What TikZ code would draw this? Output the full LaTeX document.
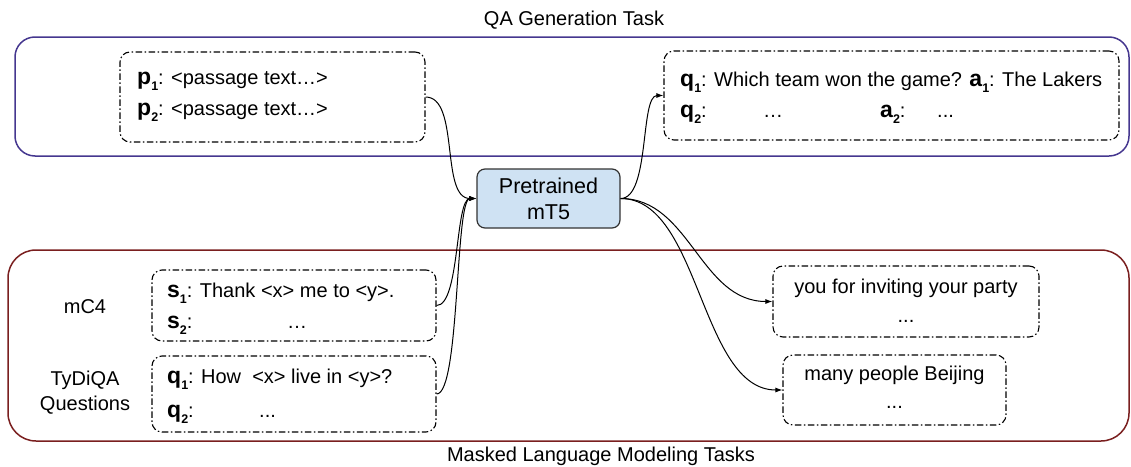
\documentclass[tikz,border=0pt]{standalone}
\usepackage{fontspec}
\setmainfont{Liberation Sans}
\usetikzlibrary{arrows.meta}
\definecolor{qapurple}{HTML}{45378F}
\definecolor{mlmred}{HTML}{7A1F1F}
\definecolor{mtblue}{HTML}{CFE2F3}
\definecolor{mtborder}{HTML}{333333}
\newcommand{\lab}[2]{{\fontsize{23}{23}\selectfont\bfseries #1}\raisebox{-6pt}{\fontsize{12.5}{12.5}\selectfont\bfseries #2}}
\begin{document}
\begin{tikzpicture}[x=1pt,y=-1pt,font=\fontsize{20}{24}\selectfont,
  dashbox/.style={draw, line width=1.1pt, dash pattern=on 6.5pt off 2.5pt on 1.5pt off 2.5pt, rounded corners=10pt, inner sep=0pt},
  txt/.style={inner sep=0pt, anchor=base west},
  ctxt/.style={inner sep=0pt, anchor=base},
  conn/.style={-{Latex[length=7pt,width=5pt]}, line width=1pt},
  frame/.style={line width=1.5pt, rounded corners=#1},
  model/.style={draw=mtborder, fill=mtblue, line width=1.2pt, rounded corners=8pt, inner sep=0pt, align=center, font=\fontsize{21.5}{26}\selectfont}]
\useasboundingbox (0,0) rectangle (1131,466);
% frames
\draw[frame=20pt, draw=qapurple] (15,37) rectangle (1129,156);
\draw[frame=28pt, draw=mlmred] (8,250) rectangle (1129,441);
\node[ctxt] (qatitle) at (574,25) {QA Generation Task};
\node[ctxt] (mlmtitle) at (601,461) {Masked Language Modeling Tasks};
% boxes
\node[dashbox, minimum width=305pt, minimum height=90pt] (pbox) at (272.5,97) {};
\node[dashbox, minimum width=455pt, minimum height=89pt] (qabox) at (891.5,95.5) {};
\node[dashbox, minimum width=284pt, minimum height=71pt] (sbox) at (294,305.5) {};
\node[dashbox, minimum width=284pt, minimum height=76pt] (tqbox) at (294,394) {};
\node[dashbox, minimum width=266pt, minimum height=71pt] (youbox) at (906,301.5) {};
\node[dashbox, minimum width=223pt, minimum height=70pt] (manybox) at (894.5,390) {};
\node[model, minimum width=143pt, minimum height=59pt] (mt5) at (548.5,198.5) {Pretrained\\mT5};
% texts
\node[txt] (p1) at (137,84) {\lab{p}{1}: <passage text…>};
\node[txt] (p2) at (137,115) {\lab{p}{2}: <passage text…>};
\node[txt] (q1) at (680,86) {\lab{q}{1}: Which team won the game? \lab{a}{1}: The Lakers};
\node[txt] (q2) at (680,117) {\lab{q}{2}:};
\node[txt] (q2d) at (763,117) {…};
\node[txt] (a2) at (880,117) {\lab{a}{2}:};
\node[txt] (a2d) at (937,117) {...};
\node[ctxt] (mc4) at (85,313) {mC4};
\node[ctxt] (tydi) at (85,385) {TyDiQA};
\node[ctxt] (ques) at (85,410) {Questions};
\node[txt] (s1) at (167,297) {\lab{s}{1}: Thank <x> me to <y>.};
\node[txt] (s2) at (167,328) {\lab{s}{2}:};
\node[txt] (s2d) at (287,328) {…};
\node[txt] (t1) at (167,383) {\lab{q}{1}: How \ <x> live in <y>?};
\node[txt] (t2) at (167,417) {\lab{q}{2}:};
\node[txt] (t2d) at (259,417) {...};
\node[ctxt] (you) at (906,293) {you for inviting your party};
\node[ctxt] (youd) at (906,322) {...};
\node[ctxt] (many) at (894.5,380) {many people Beijing};
\node[ctxt] (manyd) at (894.5,408) {...};
% connectors
\draw[conn] (pbox.east) .. controls (460,97) and (440,198.5) .. (mt5.west);
\draw[conn] (sbox.east) .. controls (460,305.5) and (455,198.5) .. (mt5.west);
\draw[conn] (tqbox.east) .. controls (460,394) and (455,198.5) .. (mt5.west);
\draw[conn] (mt5.east) .. controls (650,198.5) and (640,95.5) .. (qabox.west);
\draw[conn] (mt5.east) .. controls (690,198.5) and (700,301.5) .. (youbox.west);
\draw[conn] (mt5.east) .. controls (700,198.5) and (700,390) .. (manybox.west);
\end{tikzpicture}
\end{document}
